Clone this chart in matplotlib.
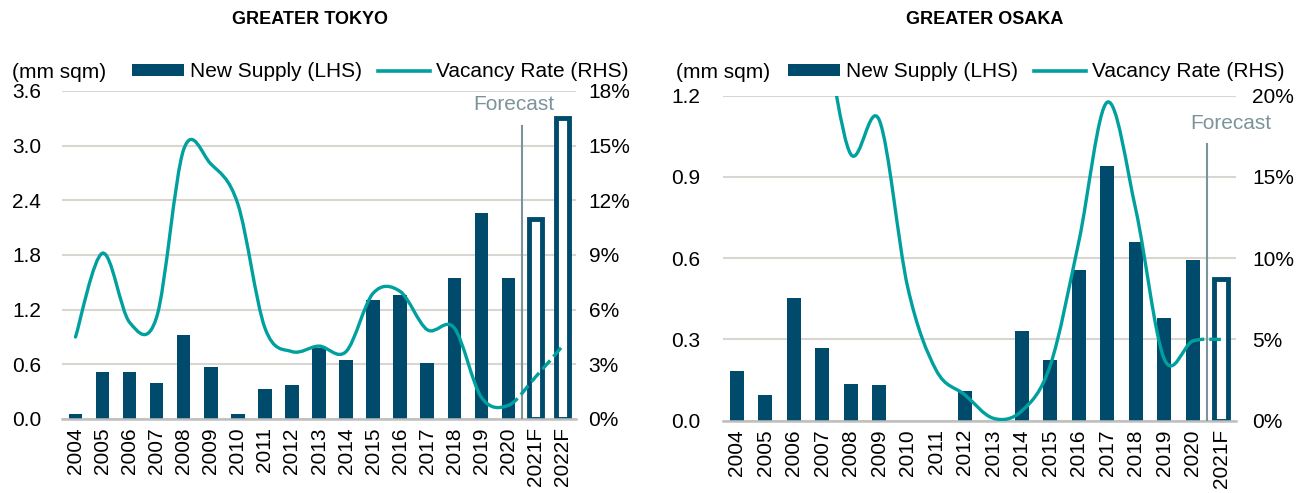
import matplotlib
matplotlib.use("Agg")
import matplotlib.pyplot as plt
from matplotlib.path import Path
from matplotlib.patches import PathPatch, Patch
from matplotlib.lines import Line2D
from matplotlib.ticker import FuncFormatter

plt.rcParams['font.family'] = ['Liberation Sans', 'DejaVu Sans']

# data
tokyo_years = ['2004', '2005', '2006', '2007', '2008', '2009', '2010', '2011', '2012', '2013',
               '2014', '2015', '2016', '2017', '2018', '2019', '2020', '2021F', '2022F']
tokyo_supply = [0.055, 0.52, 0.52, 0.40, 0.92, 0.57, 0.055, 0.33, 0.37, 0.78,
                0.65, 1.31, 1.36, 0.62, 1.55, 2.26, 1.55, 2.19, 3.30]
tokyo_vacancy = [4.5, 9.1, 5.3, 5.6, 14.8, 14.0, 11.8, 5.0, 3.7, 4.0,
                 3.7, 6.9, 7.0, 4.9, 5.0, 1.2, 0.75, 2.3, 4.0]

osaka_years = ['2004', '2005', '2006', '2007', '2008', '2009', '2010', '2011', '2012', '2013',
               '2014', '2015', '2016', '2017', '2018', '2019', '2020', '2021F']
osaka_supply = [0.183, 0.095, 0.454, 0.267, 0.134, 0.130, 0.0, 0.0, 0.108, 0.0,
                0.331, 0.224, 0.558, 0.942, 0.659, 0.381, 0.593, 0.525]
osaka_vacancy = [27.0, 26.0, 25.0, 24.0, 16.4, 18.5, 8.2, 3.1, 1.6, 0.15,
                 0.6, 3.4, 11.0, 19.6, 13.0, 3.8, 4.9, 5.0]

NAVY = '#004B6C'
TEAL = '#00A09F'
GREY = '#7D939B'
GRID = '#D9D5D0'
FS = 15


def smooth_path(x, y, i0, i1):
    # excel-like smoothed line: cubic bezier through the points
    n = len(x)
    verts = [(x[i0], y[i0])]
    codes = [Path.MOVETO]
    for i in range(i0, i1):
        a = max(i - 1, 0)
        d = min(i + 2, n - 1)
        c1 = (x[i] + (x[i + 1] - x[a]) / 6, y[i] + (y[i + 1] - y[a]) / 6)
        c2 = (x[i + 1] - (x[d] - x[i]) / 6, y[i + 1] - (y[d] - y[i]) / 6)
        verts += [c1, c2, (x[i + 1], y[i + 1])]
        codes += [Path.CURVE4] * 3
    return Path(verts, codes)


def draw_panel(rect, years, supply, vacancy, n_fc, ymax, ystep, rmax, rstep,
               fc_top, fc_text_xy, lpad, rpad, leg_xy):
    ax = fig.add_axes(rect)
    x = list(range(len(years)))
    n_act = len(years) - n_fc
    ax.bar(x[:n_act], supply[:n_act], width=0.5, color=NAVY, zorder=2)
    ax.bar(x[n_act:], supply[n_act:], width=0.5, facecolor='white',
           edgecolor=NAVY, linewidth=3.5, zorder=2)
    ax.set_xlim(-0.5, len(years) - 0.5)
    ax.set_ylim(0, ymax)
    ax.set_yticks([ystep * k for k in range(int(round(ymax / ystep)) + 1)])
    ax.yaxis.set_major_formatter(FuncFormatter(lambda v, p: f'{v:.1f}'))
    ax.set_xticks(x)
    ax.set_xticklabels(years, rotation=90)
    ax.grid(axis='y', color=GRID, linewidth=1.5, zorder=0)
    ax.set_axisbelow(True)
    for s in ['top', 'left', 'right']:
        ax.spines[s].set_visible(False)
    ax.spines['bottom'].set_color('#BFBFBF')
    ax.spines['bottom'].set_linewidth(1.8)
    ax.tick_params(axis='y', length=0, pad=lpad, labelsize=FS)
    ax.tick_params(axis='x', length=0, pad=6, labelsize=FS)

    # forecast divider
    ax.plot([n_act - 0.5, n_act - 0.5], [0, fc_top], color=GREY, linewidth=1.5, zorder=3)
    ax.text(fc_text_xy[0], fc_text_xy[1], 'Forecast', color=GREY, fontsize=FS,
            ha='center', va='center')

    ax2 = ax.twinx()
    ax2.set_ylim(0, rmax)
    ax2.set_yticks([rstep * k for k in range(int(round(rmax / rstep)) + 1)])
    ax2.yaxis.set_major_formatter(FuncFormatter(lambda v, p: f'{v:.0f}%'))
    for s in ['top', 'left', 'right', 'bottom']:
        ax2.spines[s].set_visible(False)
    ax2.tick_params(axis='y', length=0, pad=rpad, labelsize=FS)
    ax2.add_patch(PathPatch(smooth_path(x, vacancy, 0, n_act - 1), fill=False,
                            edgecolor=TEAL, linewidth=2.4, capstyle='round', zorder=4))
    ax2.add_patch(PathPatch(smooth_path(x, vacancy, n_act - 1, len(x) - 1), fill=False,
                            edgecolor=TEAL, linewidth=2.4, linestyle=(0, (3.5, 1.5)), zorder=4))

    handles = [Patch(facecolor=NAVY, edgecolor='none'),
               Line2D([0], [0], color=TEAL, linewidth=2.6)]
    ax.legend(handles, ['New Supply (LHS)', 'Vacancy Rate (RHS)'], ncol=2,
              loc='center left', bbox_to_anchor=leg_xy, frameon=False, fontsize=FS,
              handlelength=2.5, handleheight=0.5, handletextpad=0.3,
              columnspacing=0.75, borderpad=0, borderaxespad=0)
    return ax


W, H = 1307, 493
fig = plt.figure(figsize=(W / 100, H / 100), dpi=100)

draw_panel([62 / W, (H - 419) / H, 514 / W, 328 / H], tokyo_years, tokyo_supply, tokyo_vacancy,
           2, 3.6, 0.6, 18, 3, 3.22, (16.2, 3.45), 15, 9, (0.136, 1.058))
draw_panel([722.5 / W, (H - 420.7) / H, 513 / W, 325 / H], osaka_years, osaka_supply, osaka_vacancy,
           1, 1.2, 0.3, 20, 5, 1.02, (17.35, 1.096), 16, 12, (0.128, 1.073))

fig.text(310 / W, 1 - 19 / H, 'GREATER TOKYO', fontsize=13, fontweight='bold',
         ha='center', va='center')
fig.text(985 / W, 1 - 19 / H, 'GREATER OSAKA', fontsize=13, fontweight='bold',
         ha='center', va='center')
fig.text(12 / W, 1 - 72 / H, '(mm sqm)', fontsize=FS, ha='left', va='center')
fig.text(676 / W, 1 - 72 / H, '(mm sqm)', fontsize=FS, ha='left', va='center')

fig.savefig('out.png', dpi=100)
